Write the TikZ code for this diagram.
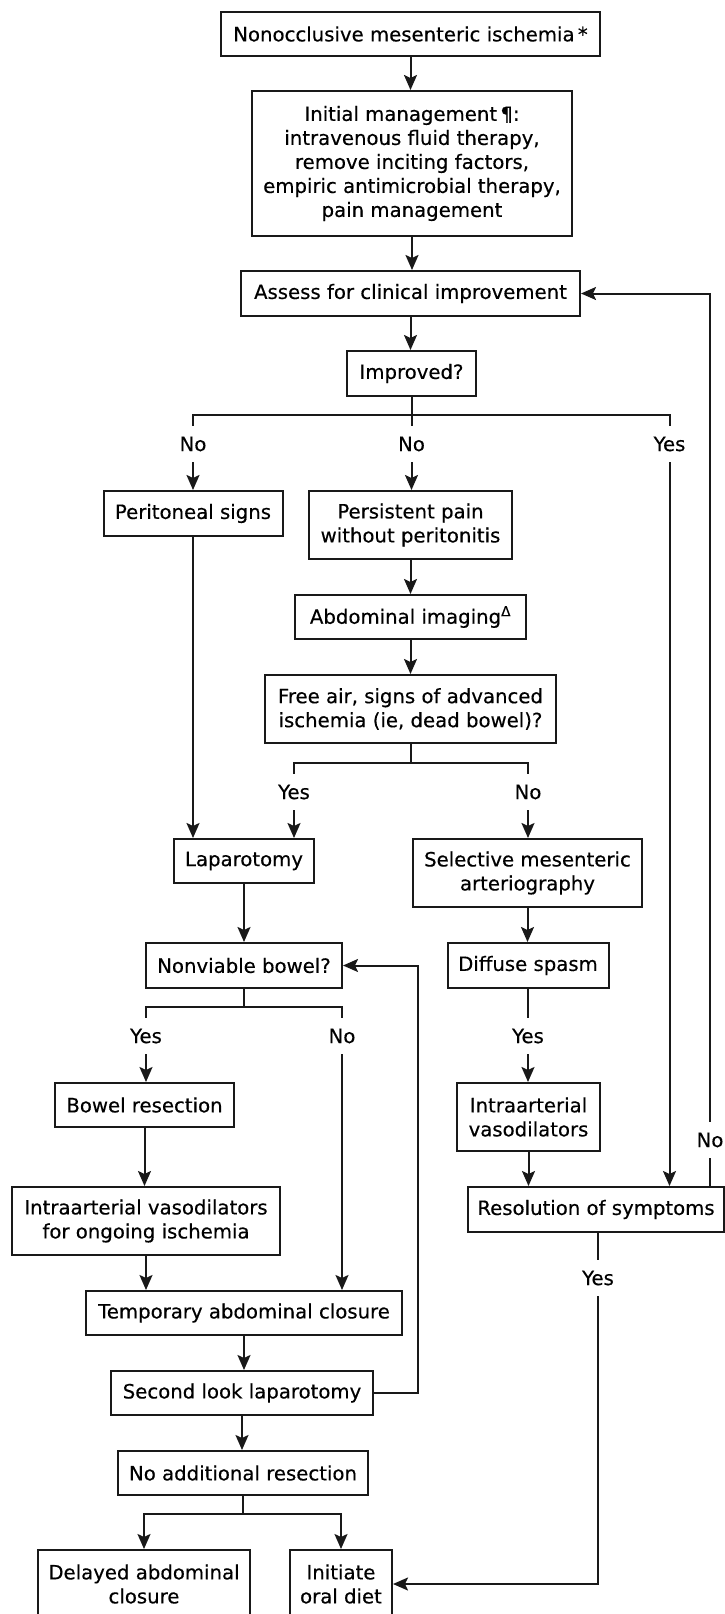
\documentclass[tikz,border=0pt]{standalone}
\usepackage{fontspec}
\setmainfont[BoldFont={DejaVu Sans},BoldFeatures={FakeBold=0.4}]{DejaVu Sans}
\usetikzlibrary{arrows.meta}
\begin{document}
\begin{tikzpicture}[x=1pt,y=-1pt,
  box/.style={draw=black!90, line width=2pt, inner sep=0pt, align=center, font=\fontsize{19.7}{24}\selectfont\bfseries},
  lbl/.style={inner sep=0pt, outer sep=11pt, font=\fontsize{19.7}{24}\selectfont\bfseries},
  ln/.style={draw=black!90, line width=2pt},
  arr/.style={draw=black!90, line width=2pt, -{Stealth[length=15pt,width=13pt,inset=3pt]}}]
\useasboundingbox (0,0) rectangle (725,1614);

% boxes
\node[box,minimum width=379pt,minimum height=44pt] (n1) at (410.5,34) {Nonocclusive mesenteric ischemia\,*};
\node[box,minimum width=320pt,minimum height=145pt] (n2) at (412,163.5) {Initial management\,¶:\\intravenous fluid therapy,\\remove inciting factors,\\empiric antimicrobial therapy,\\pain management};
\node[box,minimum width=339pt,minimum height=45pt] (n3) at (410.5,293.5) {Assess for clinical improvement};
\node[box,minimum width=129pt,minimum height=45pt] (n4) at (411.5,373.5) {Improved?};
\node[box,minimum width=179pt,minimum height=45pt] (n5) at (193,513.5) {Peritoneal signs};
\node[box,minimum width=203pt,minimum height=68pt] (n6) at (410.5,525) {Persistent pain\\without peritonitis};
\node[box,minimum width=231pt,minimum height=44pt] (n7) at (410.5,617) {Abdominal imaging\textsuperscript{Δ}};
\node[box,minimum width=291pt,minimum height=68pt] (n8) at (410.5,709) {Free air, signs of advanced\\ischemia (ie, dead bowel)?};
\node[box,minimum width=140pt,minimum height=44pt] (n9) at (244,861) {Laparotomy};
\node[box,minimum width=229pt,minimum height=68pt] (n10) at (527.5,873) {Selective mesenteric\\arteriography};
\node[box,minimum width=196pt,minimum height=45pt] (n11) at (244,965.5) {Nonviable bowel?};
\node[box,minimum width=161pt,minimum height=45pt] (n12) at (528,965.5) {Diffuse spasm};
\node[box,minimum width=179pt,minimum height=44pt] (n13) at (144.5,1105) {Bowel resection};
\node[box,minimum width=143pt,minimum height=68pt] (n14) at (528.5,1117) {Intraarterial\\vasodilators};
\node[box,minimum width=268pt,minimum height=68pt] (n15) at (146,1221) {Intraarterial vasodilators\\for ongoing ischemia};
\node[box,minimum width=256pt,minimum height=45pt] (n16) at (596,1209.5) {Resolution of symptoms};
\node[box,minimum width=316pt,minimum height=44pt] (n17) at (244,1313) {Temporary abdominal closure};
\node[box,minimum width=262pt,minimum height=44pt] (n18) at (242,1393) {Second look laparotomy};
\node[box,minimum width=250pt,minimum height=44pt] (n19) at (243,1473) {No additional resection};
\node[box,minimum width=212pt,minimum height=68pt] (n20) at (144,1584) {Delayed abdominal\\closure};
\node[box,minimum width=102pt,minimum height=68pt] (n21) at (341,1584) {Initiate\\oral diet};

% labels
\node[lbl] (y1) at (193,444) {No};
\node[lbl] (y2) at (411.5,444) {No};
\node[lbl] (y3) at (669.5,444) {Yes};
\node[lbl] (y4) at (710,1140) {No};
\node[lbl] (y5) at (294,792) {Yes};
\node[lbl] (y6) at (528,792) {No};
\node[lbl] (y7) at (528,1036) {Yes};
\node[lbl] (y8) at (146,1036) {Yes};
\node[lbl] (y9) at (342,1036) {No};
\node[lbl] (y10) at (598,1278) {Yes};

% branch points
\coordinate (b1) at (411.5,415);
\coordinate (b2) at (410.5,763);
\coordinate (b3) at (244,1007);
\coordinate (b4) at (243,1514);
\coordinate (c1) at (418,965.5);

% connectors
\draw[arr] (n1.south) -- (n1.south |- n2.north);
\draw[arr] (n2.south) -- (n2.south |- n3.north);
\draw[arr] (n3.south) -- (n3.south |- n4.north);
\draw[ln] (n4.south) -- (y2.north);
\draw[ln] (y1.north) |- (b1) -| (y3.north);
\draw[arr] (y1.south) -- (y1.south |- n5.north);
\draw[arr] (y2.south) -- (y2.south |- n6.north);
\draw[arr] (y3.south) -- (y3.south |- n16.north);
\draw[ln] (y4.south |- n16.north) -- (y4.south);
\draw[arr] (y4.north) |- (n3.east);
\draw[arr] (n6.south) -- (n6.south |- n7.north);
\draw[arr] (n7.south) -- (n7.south |- n8.north);
\draw[ln] (n8.south) -- (b2);
\draw[ln] (y5.north) |- (b2) -| (y6.north);
\draw[arr] (y5.south) -- (y5.south |- n9.north);
\draw[arr] (y6.south) -- (y6.south |- n10.north);
\draw[arr] (n5.south) -- (n5.south |- n9.north);
\draw[arr] (n9.south) -- (n9.south |- n11.north);
\draw[arr] (n10.south) -- (n10.south |- n12.north);
\draw[ln] (n12.south) -- (y7.north);
\draw[arr] (y7.south) -- (y7.south |- n14.north);
\draw[ln] (n11.south) -- (b3);
\draw[ln] (y8.north) |- (b3) -| (y9.north);
\draw[arr] (y8.south) -- (y8.south |- n13.north);
\draw[arr] (y9.south) -- (y9.south |- n17.north);
\draw[arr] (n13.south) -- (n13.south |- n15.north);
\draw[arr] (n15.south) -- (n15.south |- n17.north);
\draw[arr] (n14.south) -- (n14.south |- n16.north);
\draw[arr] (n17.south) -- (n17.south |- n18.north);
\draw[arr] (n18.south) -- (n18.south |- n19.north);
\draw[arr] (n18.east) -| (c1) -- (n11.east);
\draw[ln] (n19.south) -- (b4);
\draw[arr] (b4) -| (n20.north);
\draw[arr] (b4) -| (n21.north);
\draw[ln] (y10.north |- n16.south) -- (y10.north);
\draw[arr] (y10.south) |- (n21.east);
\end{tikzpicture}
\end{document}
